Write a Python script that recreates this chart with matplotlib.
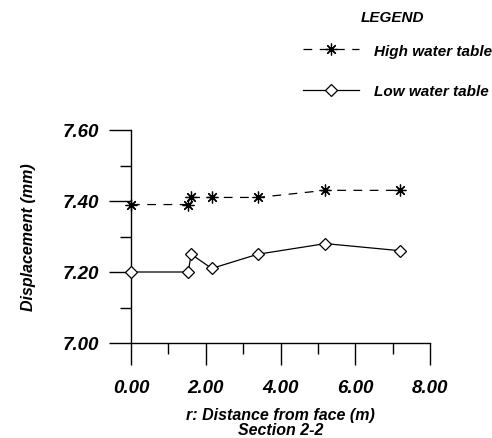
import matplotlib
matplotlib.use("Agg")
import matplotlib.pyplot as plt
from matplotlib.ticker import MultipleLocator, FormatStrFormatter

plt.rcParams['font.family'] = ['Liberation Sans', 'DejaVu Sans']
plt.rcParams['font.weight'] = 'bold'
plt.rcParams['font.style'] = 'italic'

# === Данные ===
r_dist = [0.0, 1.53, 1.61, 2.16, 3.39, 5.20, 7.20]
high_water = [7.39, 7.39, 7.41, 7.41, 7.41, 7.43, 7.43]
low_water = [7.20, 7.20, 7.25, 7.21, 7.25, 7.28, 7.26]

fig = plt.figure(figsize=(4.92, 4.39), dpi=100)
ax = fig.add_axes([131 / 492, 1 - 344 / 439, 299 / 492, 213 / 439])

ax.plot(r_dist, high_water, color="black", lw=0.9, ls=(0, (7, 6)),
        marker=(8, 2, 0), ms=8.5, mew=0.9, label="High water table",
        clip_on=False, zorder=3)
ax.plot(r_dist, low_water, color="black", lw=0.9, ls="-",
        marker="D", ms=6, mfc="white", mew=0.9, label="Low water table",
        clip_on=False, zorder=3)

ax.set_xlim(0, 8)
ax.set_ylim(7.0, 7.6)
for side in ["top", "right"]:
    ax.spines[side].set_visible(False)
for side in ["left", "bottom"]:
    ax.spines[side].set_linewidth(1.0)

ax.xaxis.set_major_locator(MultipleLocator(2))
ax.xaxis.set_minor_locator(MultipleLocator(1))
ax.yaxis.set_major_locator(MultipleLocator(0.2))
ax.yaxis.set_minor_locator(MultipleLocator(0.1))
ax.xaxis.set_major_formatter(FormatStrFormatter("%.2f"))
ax.yaxis.set_major_formatter(FormatStrFormatter("%.2f"))

ax.tick_params(which="major", direction="out", length=16, width=1.0,
               labelsize=13.5, pad=7)
ax.tick_params(axis="x", which="major", pad=10)
ax.tick_params(which="minor", direction="out", length=8, width=1.0)

ax.set_xlabel("r: Distance from face (m)\nSection 2-2", fontsize=11.5,
              fontweight="bold", labelpad=8, linespacing=1.0)
ax.set_ylabel("Displacement (mm)", fontsize=11.5, fontweight="bold",
              labelpad=19)

# === Легенда ===
fig.text(392 / 492, 1 - 18 / 439, "LEGEND", fontsize=11, ha="center", va="center")
leg = fig.legend(loc="center left", bbox_to_anchor=(295 / 492, 1 - 72 / 439),
                 frameon=False, handlelength=3.7, borderpad=0,
                 labelspacing=1.75, handletextpad=0.95,
                 prop={"size": 11})

fig.savefig("out.png", dpi=100)
